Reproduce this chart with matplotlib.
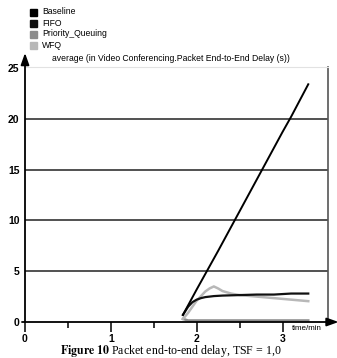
import numpy as np
import matplotlib
matplotlib.use("Agg")
import matplotlib.pyplot as plt

# values (time in minutes, delay in seconds)
baseline_t = [1.84, 2.0, 2.25, 2.5, 2.75, 3.0, 3.1, 3.3]
baseline_y = [0.7, 3.2, 7.0, 10.9, 14.8, 18.7, 20.2, 23.4]

fifo_t = [1.84, 1.9, 1.95, 2.0, 2.05, 2.1, 2.2, 2.3, 2.5, 2.7, 2.9, 3.1, 3.3]
fifo_y = [0.7, 1.5, 1.95, 2.2, 2.35, 2.45, 2.55, 2.6, 2.65, 2.7, 2.7, 2.8, 2.8]

pq_t = [1.84, 1.9, 2.2, 2.6, 3.0, 3.3]
pq_y = [0.3, 0.15, 0.15, 0.15, 0.15, 0.15]

wfq_t = [1.84, 1.9, 2.0, 2.1, 2.15, 2.2, 2.25, 2.3, 2.4, 2.5, 2.7, 2.9, 3.1, 3.3]
wfq_y = [0.3, 0.9, 2.1, 3.0, 3.3, 3.5, 3.3, 3.05, 2.8, 2.65, 2.5, 2.35, 2.2, 2.05]

series_names = ["Baseline", "FIFO", "Priority_Queuing", "WFQ"]
series_colors = ["#000000", "#111111", "#8c8c8c", "#b8b8b8"]

x_ticks = [0, 1, 2, 3]
y_ticks = [0, 5, 10, 15, 20, 25]
grid_levels = [5, 10, 15, 20]

W, H = 337, 358
my_dpi = 100
plt.rcParams['font.family'] = ['Liberation Sans', 'DejaVu Sans']
plt.rcParams['mathtext.fontset'] = 'stix'
fig = plt.figure(figsize=(W / my_dpi, H / my_dpi), dpi=my_dpi)

left, right = 25 / W, 328 / W
bottom, top = (H - 322) / H, (H - 67) / H
ax = fig.add_axes([left, bottom, right - left, top - bottom])
ax.set_xlim(0, 3.53)
ax.set_ylim(0, 25.1)

for s in ["left", "bottom"]:
    ax.spines[s].set_visible(False)
ax.spines["right"].set_color("#555555")
ax.spines["right"].set_linewidth(1.2)
ax.spines["top"].set_color("#e2e2e2")
ax.spines["top"].set_linewidth(0.8)

for g in grid_levels:
    ax.axhline(g, color="#222222", lw=1.1, zorder=1)

ax.plot(pq_t, pq_y, color=series_colors[2], lw=1.8, zorder=2)
ax.plot(wfq_t, wfq_y, color=series_colors[3], lw=1.8, zorder=3)
ax.plot(fifo_t, fifo_y, color=series_colors[1], lw=1.6, zorder=4)
ax.plot(baseline_t, baseline_y, color=series_colors[0], lw=1.4, zorder=5)

# axes with arrows
ax.annotate("", xy=(0, 1.055), xytext=(0, 0), xycoords="axes fraction",
            arrowprops=dict(arrowstyle="-|>,head_length=0.7,head_width=0.25",
                            color="black", lw=1.3, shrinkA=0, shrinkB=0))
ax.annotate("", xy=(1.035, 0), xytext=(-0.01, 0), xycoords="axes fraction",
            arrowprops=dict(arrowstyle="-|>,head_length=0.7,head_width=0.25",
                            color="black", lw=1.3, shrinkA=0, shrinkB=0))

ax.set_xticks(x_ticks)
ax.set_xticks([0.5, 1.5, 2.5], minor=True)
ax.set_xticklabels([str(v) for v in x_ticks], fontsize=7.5, fontweight="bold")
ax.tick_params(axis="x", which="major", direction="out", length=7, width=1.1, pad=1.5)
ax.tick_params(axis="x", which="minor", direction="out", length=4, width=1.1)
ax.set_yticks(y_ticks)
ax.set_yticklabels([str(v) for v in y_ticks], fontsize=7.5, fontweight="bold")
ax.tick_params(axis="y", length=0, pad=4)

ax.text(0.93, -0.012, "time/min", transform=ax.transAxes, fontsize=5.8,
        ha="center", va="top")
ax.text(0.09, 1.035, "average (in Video Conferencing.Packet End-to-End Delay (s))",
        transform=ax.transAxes, fontsize=6.2, ha="left", va="center")

# legend block at top
leg_y = [12, 23, 34, 45]
for name, c, yy in zip(series_names, series_colors, leg_y):
    fig.patches.append(plt.Rectangle((30 / W, (H - yy - 3.5) / H), 7 / W, 7 / H,
                                     transform=fig.transFigure, color=c,
                                     figure=fig))
    fig.text(42 / W, (H - yy) / H, name, fontsize=6.2, ha="left", va="center")

fig.text(171 / W, (H - 351) / H,
         r"$\mathbf{Figure\ 10}$ Packet end-to-end delay, TSF = 1,0",
         fontsize=8.6, ha="center", va="center", family="Liberation Serif")

fig.savefig("out.png", dpi=my_dpi)
